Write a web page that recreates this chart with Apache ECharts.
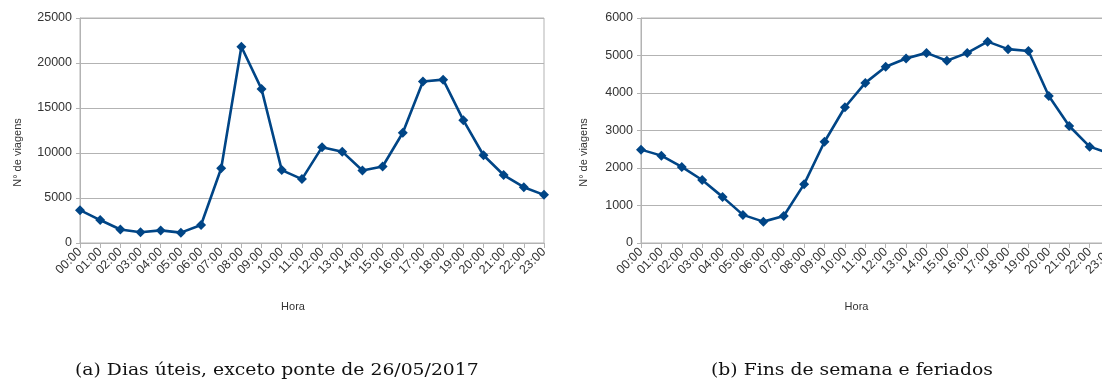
<!DOCTYPE html>
<html><head><meta charset="utf-8">
<script src="https://cdn.jsdelivr.net/npm/echarts@6/dist/echarts.min.js"></script>
<style>html,body{margin:0;padding:0;background:#fff}#c{width:1102px;height:381px}</style>
</head><body><div id="c"></div>
<script>
var hours = ["00:00","01:00","02:00","03:00","04:00","05:00","06:00","07:00","08:00","09:00","10:00","11:00","12:00","13:00","14:00","15:00","16:00","17:00","18:00","19:00","20:00","21:00","22:00","23:00"];
var weekdays = [3650,2550,1500,1200,1400,1150,2000,8300,21800,17100,8100,7100,10650,10150,8050,8500,12250,17950,18150,13650,9750,7550,6200,5350];
var weekends = [2490,2330,2030,1680,1230,750,570,720,1570,2700,3620,4270,4700,4920,5070,4860,5070,5370,5170,5120,3920,3120,2570,2380];
var captionA = "(a) Dias úteis, exceto ponte de 26/05/2017";
var captionB = "(b) Fins de semana e feriados";
var yTitle = "N° de viagens";
var xTitle = "Hora";

var chart = echarts.init(document.getElementById('c'));
var gridLine = '#b3b3b3';
var lbl = {color:'#333', fontFamily:'Liberation Sans', fontSize:12.5};
function xAx(i){return {type:'category', gridIndex:i, data:hours, boundaryGap:false,
  axisLine:{lineStyle:{color:gridLine}}, axisTick:{show:true, length:5, lineStyle:{color:gridLine}, alignWithLabel:true},
  axisLabel:Object.assign({rotate:45, interval:0, margin:7}, lbl),
  name:xTitle, nameLocation:'middle', nameGap:58, nameTextStyle:{color:'#333', fontFamily:'Liberation Sans', fontSize:11, padding:[0,38,0,0]}};}
function yAx(i,max,iv){return {type:'value', gridIndex:i, min:0, max:max, interval:iv,
  axisLine:{show:true, lineStyle:{color:gridLine}}, axisTick:{show:true, length:4, lineStyle:{color:gridLine}},
  splitLine:{lineStyle:{color:gridLine}},
  axisLabel:Object.assign({margin:8, formatter:function(v){return String(v);}}, lbl),
  name:yTitle, nameLocation:'middle', nameGap:iv>=5000?57:52, nameRotate:90, nameTextStyle:{color:'#333', fontFamily:'Liberation Sans', fontSize:11, padding:[0,44,0,0]}};}
function ser(i,d){return {type:'line', xAxisIndex:i, yAxisIndex:i, data:d, symbol:'diamond', symbolSize:10,
  lineStyle:{color:'#004586', width:2.6}, itemStyle:{color:'#004586'}, animation:false};}
chart.setOption({
  animation:false,
  grid:[{left:80, top:18, width:464, height:225, show:true, borderColor:gridLine, borderWidth:1, outerBoundsMode:'none', containLabel:false},
        {left:641, top:18, width:469, height:225, show:true, borderColor:gridLine, borderWidth:1, outerBoundsMode:'none', containLabel:false}],
  xAxis:[xAx(0), xAx(1)],
  yAxis:[yAx(0,25000,5000), yAx(1,6000,1000)],
  series:[ser(0,weekdays), ser(1,weekends)],
  graphic:[
    {type:'text', left:75, top:362, scaleX:1.105, style:{text:captionA, fill:'#111', font:'17px "DejaVu Serif"'}},
    {type:'text', left:711, top:362, scaleX:1.105, style:{text:captionB, fill:'#111', font:'17px "DejaVu Serif"'}}
  ]
});
</script></body></html>
